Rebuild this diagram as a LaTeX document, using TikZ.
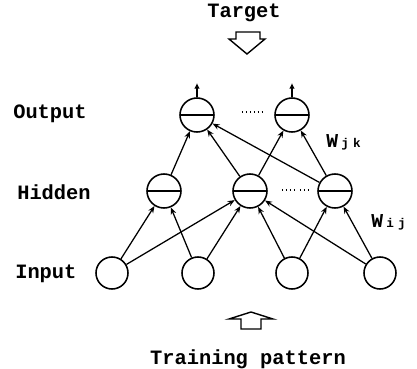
\documentclass[tikz,border=0pt]{standalone}
\usepackage{fontspec}
\setmonofont{Liberation Mono}
\usetikzlibrary{arrows.meta}
\tikzset{
  unit/.style={draw,circle,line width=1.1pt,minimum size=0.85cm,inner sep=0pt},
  inunit/.style={unit,minimum size=0.8cm},
  sumunit/.style={unit,path picture={\draw[line width=1pt] (path picture bounding box.west) -- (path picture bounding box.east);}},
  txt/.style={font=\ttfamily\bfseries\fontsize{14.5}{16}\selectfont,inner sep=0pt},
  wtxt/.style={font=\ttfamily\bfseries\fontsize{14}{16}\selectfont,inner sep=0pt,anchor=west},
  weight/.style={-{Stealth[length=5pt,width=4pt]},line width=0.9pt},
  outflow/.style={-{Latex[length=4pt,width=4pt]},line width=1.1pt},
  bigarrow/.style={draw,line width=1pt,line join=miter},
}
\newcommand{\wsub}[2]{W\,{\fontsize{9}{10}\selectfont#1\,\,#2}}
\begin{document}
\begin{tikzpicture}[x=0.025cm,y=-0.025cm]
      \useasboundingbox (0,0) rectangle (417,369);
      \draw
        (197,115) node[sumunit] (o1){}
        (292,115) node[sumunit] (o2){}
        (164,191) node[sumunit] (h1){}
        (250,191) node[sumunit] (h2){}
        (335,191) node[sumunit] (h3){}
        (112,273) node[inunit] (i1){}
        (198,273) node[inunit] (i2){}
        (292,273) node[inunit] (i3){}
        (380,273) node[inunit] (i4){};
      \node[txt] (target) at (244,13) {Target};
      \node[txt] (pattern) at (248,359) {Training pattern};
      \node[txt,anchor=west] (outlbl) at (13,114) {Output};
      \node[txt,anchor=west] (hidlbl) at (17,192) {Hidden};
      \node[txt,anchor=west] (inlbl) at (15,274) {Input};
      \node[wtxt] (wjk) at (326,142) {\wsub{j}{k}};
      \node[wtxt] (wij) at (371,222) {\wsub{i}{j}};
      \coordinate (o1up) at (197,83);
      \coordinate (o2up) at (292,83);
      \draw[outflow] (o1.north) -- (o1up);
      \draw[outflow] (o2.north) -- (o2up);
      \draw[bigarrow] (236,32) -- (260,32) -- (260,39) -- (265,39) -- (247,54) -- (229,39) -- (236,39) -- cycle;
      \draw[bigarrow] (251,312) -- (273,319) -- (261,319) -- (261,329) -- (241,329) -- (241,319) -- (229,319) -- cycle;
      \draw[dotted,line width=0.8pt] (242,112) -- (262,112);
      \draw[dotted,line width=0.8pt] (282,190) -- (295,190);
      \draw[dotted,line width=0.8pt] (300,190) -- (310,190);
      \begin{scope}[weight]
        \draw (h1) to (o1);
        \draw (h2) to (o1);
        \draw (h3) to (o1);
        \draw (h2) to (o2);
        \draw (h3) to (o2);
        \draw (i1) to (h1);
        \draw (i1) to (h2);
        \draw (i2) to (h1);
        \draw (i2) to (h2);
        \draw (i3) to (h2);
        \draw (i3) to (h3);
        \draw (i4) to (h2);
        \draw (i4) to (h3);
      \end{scope}
    \end{tikzpicture}
\end{document}
